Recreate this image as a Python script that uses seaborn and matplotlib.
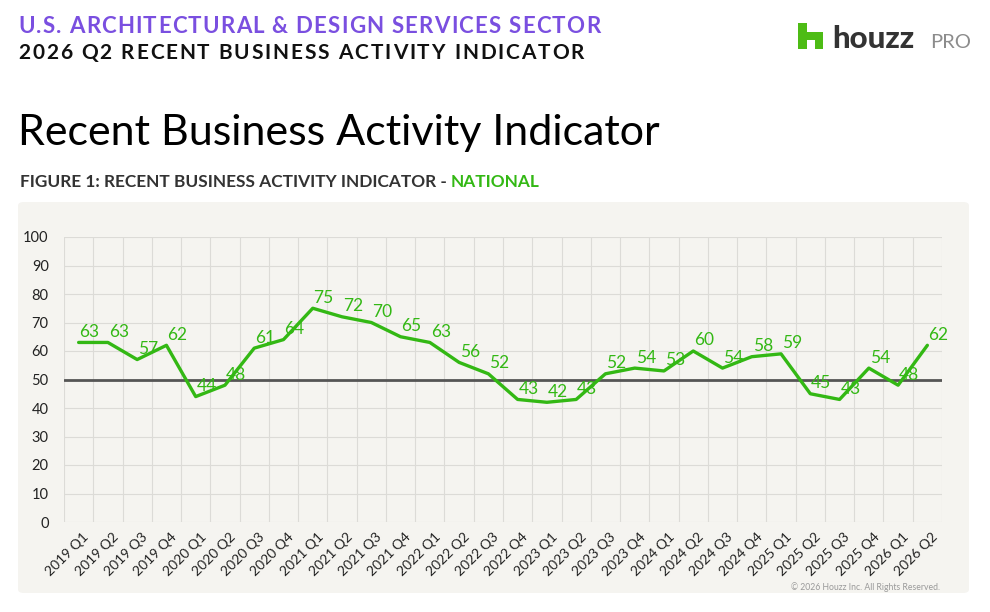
import numpy as np
import pandas as pd
import matplotlib
matplotlib.use("Agg")
import matplotlib.pyplot as plt
import seaborn as sns
from matplotlib.font_manager import FontProperties
from matplotlib.patches import FancyBboxPatch, Polygon
from matplotlib.transforms import ScaledTranslation

# ---------------- data ----------------
quarters = ["2019 Q1", "2019 Q2", "2019 Q3", "2019 Q4",
            "2020 Q1", "2020 Q2", "2020 Q3", "2020 Q4",
            "2021 Q1", "2021 Q2", "2021 Q3", "2021 Q4",
            "2022 Q1", "2022 Q2", "2022 Q3", "2022 Q4",
            "2023 Q1", "2023 Q2", "2023 Q3", "2023 Q4",
            "2024 Q1", "2024 Q2", "2024 Q3", "2024 Q4",
            "2025 Q1", "2025 Q2", "2025 Q3", "2025 Q4",
            "2026 Q1", "2026 Q2"]
indicator = [63, 63, 57, 62, 44, 48, 61, 64, 75, 72, 70, 65, 63, 56, 52,
             43, 42, 43, 52, 54, 53, 60, 54, 58, 59, 45, 43, 54, 48, 62]
y_ticks = [0, 10, 20, 30, 40, 50, 60, 70, 80, 90, 100]
threshold = 50

header_1 = "U.S. ARCHITECTURAL & DESIGN SERVICES SECTOR"
header_2 = "2026 Q2 RECENT BUSINESS ACTIVITY INDICATOR"
title = "Recent Business Activity Indicator"
fig_label = "FIGURE 1: RECENT BUSINESS ACTIVITY INDICATOR - "
fig_label_hl = "NATIONAL"
copyright_txt = "\u00a9 2026 Houzz Inc. All Rights Reserved."

# ---------------- style ----------------
GREEN = "#33b814"
PURPLE = "#7a4fe0"
PANEL = "#f5f4f0"
GRID = "#dcdbd7"
W, H = 990, 612

sns.set_theme(style="white")
plt.rcParams["font.family"] = ["Lato", "DejaVu Sans"]

fig = plt.figure(figsize=(W / 100, H / 100), dpi=100)
fig.patch.set_facecolor("white")
renderer = fig.canvas.get_renderer()


def fx(px):
    return px / W


def fy(py):
    return 1 - py / H


def text_w(s, prop):
    return renderer.get_text_width_height_descent(s, prop, ismath=False)[0]


def tracked(x_px, y_px, s, prop, target_w, color):
    base = text_w(s, prop)
    extra = (target_w - base) / (len(s) - 1)
    wh = text_w("H", prop)
    for i, ch in enumerate(s):
        if ch == " ":
            continue
        adv = (text_w(s[:i] + "H", prop) - wh) if i > 0 else 0
        fig.text(fx(x_px + adv + i * extra), fy(y_px), ch, fontproperties=prop,
                 color=color, va="baseline", ha="left")


def fitted(x_px, y_px, s, family, weight, target_w, color, **kw):
    prop = FontProperties(family=family, weight=weight, size=10)
    w10 = text_w(s, prop)
    size = 10 * target_w / w10
    prop = FontProperties(family=family, weight=weight, size=size)
    fig.text(fx(x_px), fy(y_px), s, fontproperties=prop, color=color,
             va="baseline", ha="left", **kw)
    return prop


# panel
panel = FancyBboxPatch((fx(18), fy(593)), fx(969) - fx(18), fy(202) - fy(593),
                       boxstyle="round,pad=0,rounding_size=0.006",
                       transform=fig.transFigure, facecolor=PANEL,
                       edgecolor="none", zorder=-5)
fig.patches.append(panel)

# headers
tracked(18, 33, header_1, FontProperties(family=["Lato"], weight="bold", size=16), 582, PURPLE)
tracked(18, 59, header_2, FontProperties(family=["Lato"], weight="bold", size=15), 566, "#111111")
fitted(18, 145, title, ["Lato"], "normal", 644, "#000000")

# figure label
lab_prop = FontProperties(family=["Lato"], weight="bold", size=10)
sz = 10 * (452 - 20) / text_w(fig_label, lab_prop)
lab_prop = FontProperties(family=["Lato"], weight="bold", size=sz)
fig.text(fx(20), fy(187), fig_label, fontproperties=lab_prop, color="#333333",
         va="baseline", ha="left")
fig.text(fx(20 + text_w(fig_label + "H", lab_prop) - text_w("H", lab_prop)), fy(187),
         fig_label_hl, fontproperties=lab_prop, color=GREEN, va="baseline", ha="left")

# logo
x0, x1, y0, y1 = 798, 823, 49, 23
pts = [(0, 0), (0, 1), (0.34, 1), (0.34, 0.66), (1, 0.66), (1, 0),
       (0.66, 0), (0.66, 0.36), (0.34, 0.36), (0.34, 0)]
poly = Polygon([(fx(x0 + px * (x1 - x0)), fy(y0 - py * (y0 - y1))) for px, py in pts],
               closed=True, transform=fig.transFigure, facecolor="#4dbc15",
               edgecolor="none")
fig.patches.append(poly)
fig.text(fx(832), fy(48), "houzz", fontsize=22.5, fontweight="black",
         color="#333333", va="baseline", ha="left")
fig.text(fx(971), fy(48), "PRO", fontsize=14.5, fontweight="normal",
         color="#8c8c8c", va="baseline", ha="right")

# copyright
fig.text(fx(940), fy(590), copyright_txt, fontsize=6.2, color="#9a9a9a",
         va="baseline", ha="right")

# ---------------- chart ----------------
ax = fig.add_axes([fx(64), fy(522), fx(942) - fx(64), fy(237) - fy(522)])
ax.set_zorder(5)
ax.set_facecolor(PANEL)
df = pd.DataFrame({"quarter": quarters, "value": indicator,
                   "pos": np.arange(len(quarters))})

ax.axhline(threshold, color="#555555", lw=2, zorder=2)
sns.lineplot(data=df, x="pos", y="value", ax=ax, color=GREEN, lw=2.4,
             zorder=3, legend=False)

for p, v in zip(df["pos"], df["value"]):
    ax.annotate(str(v), (p, v), xytext=(0.6, 4), textcoords="offset points",
                ha="left", va="baseline", fontsize=12.5, color=GREEN, zorder=4)

ax.set_xlim(-0.5, len(quarters) - 0.5)
ax.set_ylim(0, 100)
ax.set_yticks(y_ticks)
ax.set_yticklabels([str(t) for t in y_ticks])
ax.set_xticks(df["pos"])
ax.set_xticklabels(quarters, rotation=45, ha="right", rotation_mode="anchor")
ax.set_xticks(np.arange(-0.5, len(quarters), 1.0), minor=True)
ax.grid(False)
ax.grid(which="minor", axis="x", color=GRID, lw=0.8, zorder=0)
ax.grid(which="major", axis="y", color=GRID, lw=0.8, zorder=0)
ax.tick_params(axis="both", which="both", length=0)
ax.tick_params(axis="y", pad=11, labelsize=10.5, labelcolor="#222222")
ax.tick_params(axis="x", pad=6, labelsize=10, labelcolor="#222222")
shift = ScaledTranslation(3 / 72, 0, fig.dpi_scale_trans)
for lbl in ax.get_xticklabels():
    lbl.set_transform(lbl.get_transform() + shift)
ax.set_xlabel("")
ax.set_ylabel("")
for s in ax.spines.values():
    s.set_visible(False)

fig.savefig("out.png", dpi=100, facecolor="white")
